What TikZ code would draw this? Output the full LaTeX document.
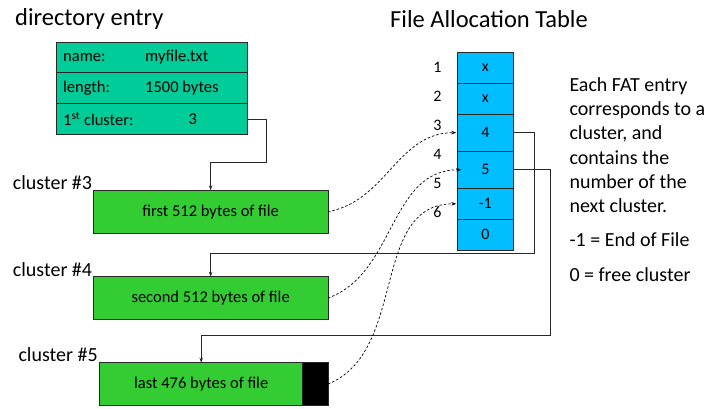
\documentclass[tikz,border=0pt]{standalone}
\usepackage{fontspec}
\setmainfont{Carlito}
\usetikzlibrary{arrows.meta}
\definecolor{dirteal}{RGB}{0,204,153}
\definecolor{clgreen}{RGB}{51,204,51}
\definecolor{fatblue}{RGB}{0,190,255}
\definecolor{edge}{RGB}{40,40,40}
\tikzset{
  cell/.style={draw=edge, line width=0.8pt, anchor=north west, inner sep=0pt, outer sep=0pt},
  dircell/.style={cell, fill=dirteal, minimum width=190.6pt, minimum height=30.8pt},
  fatcell/.style={cell, fill=fatblue, minimum width=56pt, font=\fontsize{16}{19}\selectfont},
  clbox/.style={cell, fill=clgreen, minimum height=42.7pt, font=\fontsize{16.5}{19}\selectfont},
  dirtxt/.style={anchor=west, inner sep=0pt, font=\fontsize{16.5}{19}\selectfont},
  title/.style={anchor=west, inner sep=0pt, font=\fontsize{24.5}{28}\selectfont},
  cllabel/.style={anchor=west, inner sep=0pt, font=\fontsize{20}{24}\selectfont},
  numlabel/.style={inner sep=0pt, font=\fontsize{16}{19}\selectfont},
  conn/.style={draw=edge, line width=0.8pt, -{Stealth[length=5pt,width=3.5pt]}},
  dconn/.style={draw=black, line width=0.7pt, dashed, dash pattern=on 2.5pt off 2pt, -{Stealth[length=5pt,width=3.5pt]}},
  note/.style={anchor=west, inner sep=0pt, align=left, font=\fontsize{20}{24.3}\selectfont}
}
\begin{document}
\begin{tikzpicture}[x=1pt,y=-1pt]
\useasboundingbox (0,0) rectangle (720,409);
% titles
\node[title] (t1) at (15,19) {directory entry};
\node[title] (t2) at (390,19) {File Allocation Table};
% directory entry
\node[dircell] (d1) at (56.7,42.3) {};
\node[dircell] (d2) at (56.7,72.9) {};
\node[dircell] (d3) at (56.7,103.6) {};
\node[dirtxt] (n1) at (63,57.5) {name:};
\node[dirtxt] (v1) at (145,57.5) {myfile.txt};
\node[dirtxt] (n2) at (63,88.2) {length:};
\node[dirtxt] (v2) at (145,88.2) {1500 bytes};
\node[dirtxt] (n3) at (63,119) {1\textsuperscript{st} cluster:};
\node[dirtxt, anchor=center] (v3) at (192.7,119) {3};
% FAT
\node[fatcell, minimum height=31pt] (f1) at (457.3,52.3) {x};
\node[fatcell, minimum height=30.7pt] (f2) at (457.3,83.3) {x};
\node[fatcell, minimum height=37.3pt] (f3) at (457.3,114) {4};
\node[fatcell, minimum height=37pt] (f4) at (457.3,151.3) {5};
\node[fatcell, minimum height=31pt] (f5) at (457.3,188.3) {-1};
\node[fatcell, minimum height=30.7pt] (f6) at (457.3,219.3) {0};
\node[numlabel] (l1) at (437.3,67) {1};
\node[numlabel] (l2) at (437.3,96) {2};
\node[numlabel] (l3) at (437.3,125) {3};
\node[numlabel] (l4) at (437.3,154.3) {4};
\node[numlabel] (l5) at (437.3,183.3) {5};
\node[numlabel] (l6) at (437.3,211.7) {6};
% explanation
\node[note] (e1) at (569.3,145) {Each FAT entry\\corresponds to a\\cluster, and\\contains the\\number of the\\next cluster.};
\node[note] (e2) at (569.3,240) {-1 = End of File};
\node[note] (e3) at (569.3,275) {0 = free cluster};
% clusters
\node[cllabel] (cl3) at (12.7,183) {cluster \#3};
\node[cllabel] (cl4) at (12.7,269.5) {cluster \#4};
\node[cllabel] (cl5) at (18.3,355) {cluster \#5};
\node[clbox, minimum width=234.7pt] (c3) at (93.3,190.3) {first 512 bytes of file};
\node[clbox, minimum width=234.7pt] (c4) at (93.3,276.7) {second 512 bytes of file};
\node[clbox, minimum width=203pt] (c5) at (99.7,362.7) {last 476 bytes of file};
\node[cell, fill=black, minimum width=25.3pt, minimum height=42.7pt] (c5e) at (302.7,362.7) {};
% chain connectors
\coordinate (j1) at (266,162.3);
\coordinate (j2) at (534,253.3);
\coordinate (j3) at (550.7,335);
\draw[conn] (d3.east) -| (j1) -| (c3.north);
\draw[conn] (f3.east) -| (j2) -| (c4.north);
\draw[conn] (f4.east) -| (j3) -| (c5.north);
% dashed links
\draw[dconn] (c3.east) to[out=10,in=180] ([xshift=-1pt]f3.west);
\draw[dconn] (c4.east) to[out=20,in=180] ([xshift=4pt]f4.west);
\draw[dconn] (c5e.east) to[out=22,in=180] ([xshift=-1pt]f5.west);
\end{tikzpicture}
\end{document}
